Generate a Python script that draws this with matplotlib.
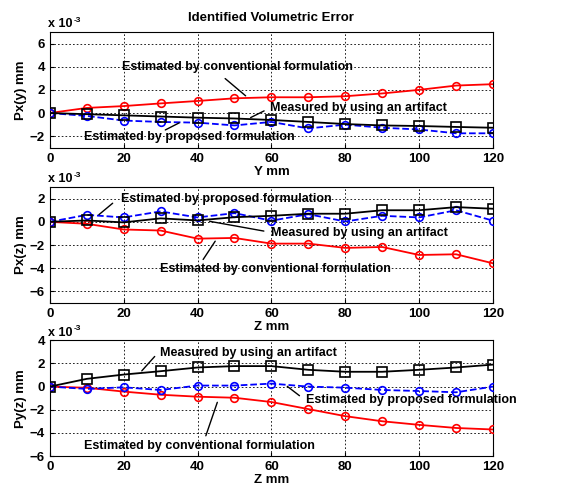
import numpy as np
import matplotlib.pyplot as plt

plt.rcParams['font.family'] = ['Liberation Sans', 'DejaVu Sans']
plt.rcParams['font.weight'] = 'bold'

# positions along the axis (mm)
pos = [0, 10, 20, 30, 40, 50, 60, 70, 80, 90, 100, 110, 120]

# Px(y), x 1e-3 mm
pxy_conv = [0, 0.44, 0.6, 0.83, 1.04, 1.27, 1.36, 1.36, 1.45, 1.69, 2.0, 2.37, 2.49]
pxy_meas = [0, -0.1, -0.2, -0.3, -0.4, -0.47, -0.6, -0.77, -0.95, -1.07, -1.12, -1.2, -1.27]
pxy_prop = [0, -0.25, -0.65, -0.77, -0.83, -1.07, -0.77, -1.33, -1.0, -1.27, -1.42, -1.75, -1.75]

# Px(z)
pxz_conv = [0, -0.17, -0.66, -0.75, -1.45, -1.39, -1.88, -1.88, -2.25, -2.17, -2.86, -2.8, -3.58]
pxz_meas = [0, 0.12, -0.05, 0.3, 0.12, 0.4, 0.52, 0.7, 0.7, 1.0, 1.0, 1.27, 1.13]
pxz_prop = [0, 0.6, 0.38, 0.9, 0.38, 0.75, 0.1, 0.66, 0.03, 0.52, 0.38, 1.0, 0.1]

# Py(z)
pyz_conv = [0, -0.1, -0.43, -0.7, -0.87, -0.96, -1.33, -1.94, -2.55, -2.99, -3.3, -3.57, -3.7]
pyz_meas = [0, 0.67, 1.04, 1.33, 1.65, 1.77, 1.77, 1.45, 1.28, 1.28, 1.45, 1.65, 1.9]
pyz_prop = [0, -0.2, -0.06, -0.29, 0.09, 0.09, 0.26, 0, -0.09, -0.29, -0.38, -0.49, 0]

lbl_conv = 'Estimated by conventional formulation'
lbl_meas = 'Measured by using an artifact'
lbl_prop = 'Estimated by proposed formulation'

fig = plt.figure(figsize=(5.66, 4.91), dpi=100)

panels = [
    # rect, conv, meas, prop, ylim, yticks, ylabel, xlabel, notes
    ([0.088, 0.699, 0.783, 0.236], pxy_conv, pxy_meas, pxy_prop, (-3, 7), [-2, 0, 2, 4, 6],
     'Px(y) mm', 'Y mm',
     [(lbl_conv, (50.8, 3.93), (46.9, 3.13), (53.6, 1.33)),
      (lbl_meas, (83.7, 0.46), (58.7, 0.29), (53.7, -0.5)),
      (lbl_prop, (37.7, -2.07), (30.6, -1.57), (35.7, -0.74))]),
    ([0.088, 0.383, 0.783, 0.236], pxz_conv, pxz_meas, pxz_prop, (-7, 3), [-6, -4, -2, 0, 2],
     'Px(z) mm', 'Z mm',
     [(lbl_prop, (47.7, 1.96), (17.6, 1.76), (12.7, 0.46)),
      (lbl_meas, (83.8, -0.99), (58.7, -0.84), (42.5, 0.09)),
      (lbl_conv, (61.0, -4.08), (41.1, -3.45), (45.2, -1.47))]),
    ([0.088, 0.071, 0.783, 0.236], pyz_conv, pyz_meas, pyz_prop, (-6, 4), [-6, -4, -2, 0, 2, 4],
     'Py(z) mm', 'Z mm',
     [(lbl_meas, (53.8, 2.92), (28.9, 2.78), (24.4, 1.18)),
      (lbl_prop, (98.0, -1.13), (68.2, -0.93), (63.7, 0.17)),
      (lbl_conv, (40.6, -5.1), (42.0, -4.47), (45.6, -1.13))]),
]

for i, (rect, conv, meas, prop, ylim, yticks, ylab, xlab, notes) in enumerate(panels):
    ax = fig.add_axes(rect)
    ax.plot(pos, conv, '-o', color='red', lw=1.3, ms=5.5, mfc='none', mew=1.2, zorder=3)
    ax.plot(pos, prop, '--o', color='blue', lw=1.3, ms=5.5, mfc='none', mew=1.2, zorder=3)
    ax.plot(pos, meas, '-s', color='black', lw=1.3, ms=6.5, mfc='none', mew=1.2, zorder=4)
    ax.set_xlim(0, 120)
    ax.set_ylim(*ylim)
    ax.set_xticks(range(0, 121, 20))
    ax.set_yticks(yticks)
    ax.grid(True, color='black', linestyle=(0, (2, 2.5)), lw=0.6)
    ax.tick_params(direction='in', labelsize=9.5, length=3)
    for t in ax.get_xticklabels() + ax.get_yticklabels():
        t.set_fontweight('bold')
    ax.set_ylabel(ylab, fontsize=9.5, fontweight='bold', labelpad=2)
    ax.set_xlabel(xlab, fontsize=9.5, fontweight='bold', labelpad=1)
    # MATLAB style exponent label above the y axis
    ax.text(-0.005, 1.015, 'x 10', transform=ax.transAxes, fontsize=9,
            fontweight='bold', ha='left', va='bottom')
    ax.text(0.053, 1.07, '-3', transform=ax.transAxes, fontsize=6,
            ha='left', va='bottom')
    if i == 0:
        ax.set_title('Identified Volumetric Error', fontsize=9.5, fontweight='bold', pad=8)
    for txt, tpos, start, end in notes:
        ax.annotate('', xy=end, xytext=start,
                    arrowprops=dict(arrowstyle='-', color='black', lw=1.0), zorder=5)
        ax.text(tpos[0], tpos[1], txt, ha='center', va='center', fontsize=9,
                fontweight='bold', zorder=6, clip_on=False)

fig.savefig('out.png', dpi=100)
